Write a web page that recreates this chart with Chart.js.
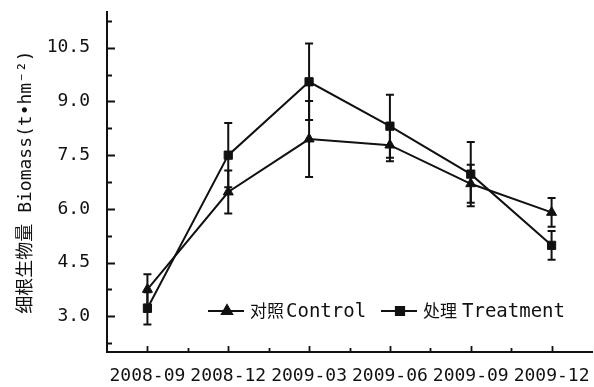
<!DOCTYPE html>
<html>
<head>
<meta charset="utf-8">
<script src="https://cdn.jsdelivr.net/npm/chart.js@4.4.1/dist/chart.umd.min.js"></script>
<style>
  html, body { margin: 0; padding: 0; background: #fff; }
  #wrap { width: 594px; height: 387px; }
</style>
</head>
<body>
<div id="wrap"><canvas id="chart"></canvas></div>
<script>
const months = ["2008-09", "2008-12", "2009-03", "2009-06", "2009-09", "2009-12"];
const control = [3.75, 6.47, 7.95, 7.78, 6.70, 5.90];
const controlErr = [0.42, 0.60, 1.06, 0.45, 0.53, 0.40];
const treatment = [3.22, 7.50, 9.55, 8.31, 6.97, 4.98];
const treatmentErr = [0.45, 0.90, 1.07, 0.88, 0.90, 0.40];
const yTicks = [3.0, 4.5, 6.0, 7.5, 9.0, 10.5];
const yMinorTicks = [2.25, 3.75, 5.25, 6.75, 8.25, 9.75, 11.25];

const INK = "#111";
const MONO = "'DejaVu Sans Mono', 'Noto Sans CJK SC', monospace";
const CJK = "'Noto Sans CJK SC', sans-serif";

// error bars, drawn from the y scale
const errorBars = {
  id: "errorBars",
  afterDatasetsDraw(chart) {
    const { ctx, scales: { x, y } } = chart;
    ctx.save();
    ctx.strokeStyle = INK;
    ctx.lineWidth = 2;
    chart.data.datasets.forEach(ds => {
      ds.data.forEach((v, i) => {
        const px = x.getPixelForValue(i);
        const top = y.getPixelForValue(v + ds.errors[i]);
        const bot = y.getPixelForValue(v - ds.errors[i]);
        ctx.beginPath();
        ctx.moveTo(px, top); ctx.lineTo(px, bot);
        ctx.moveTo(px - 4, top); ctx.lineTo(px + 4, top);
        ctx.moveTo(px - 4, bot); ctx.lineTo(px + 4, bot);
        ctx.stroke();
      });
    });
    ctx.restore();
  }
};

// tick marks pointing into the plot
const innerTicks = {
  id: "innerTicks",
  afterDraw(chart) {
    const { ctx, scales: { x, y }, chartArea: a } = chart;
    ctx.save();
    ctx.strokeStyle = INK;
    ctx.lineWidth = 1.8;
    ctx.beginPath();
    yTicks.forEach(v => {
      const py = Math.round(y.getPixelForValue(v)) + 0.5;
      ctx.moveTo(a.left, py); ctx.lineTo(a.left + 8, py);
    });
    yMinorTicks.forEach(v => {
      const py = Math.round(y.getPixelForValue(v)) + 0.5;
      ctx.moveTo(a.left, py); ctx.lineTo(a.left + 5, py);
    });
    months.forEach((m, i) => {
      const px = Math.round(x.getPixelForValue(i)) + 0.5;
      ctx.moveTo(px, a.bottom); ctx.lineTo(px, a.bottom - 6);
      if (i > 0) {
        const mx = Math.round(x.getPixelForValue(i - 0.5)) + 0.5;
        ctx.moveTo(mx, a.bottom); ctx.lineTo(mx, a.bottom - 4);
      }
    });
    ctx.stroke();
    ctx.restore();
  }
};

// legend inside the plot, near the bottom
const innerLegend = {
  id: "innerLegend",
  afterDraw(chart) {
    const { ctx, chartArea: a } = chart;
    const ly = 311;
    const items = [
      { ds: chart.data.datasets[0], x0: a.left + 101, cjk: "对照", gap: 2, latin: "Control" },
      { ds: chart.data.datasets[1], x0: a.left + 274, cjk: "处理", gap: 5, latin: "Treatment" }
    ];
    ctx.save();
    ctx.strokeStyle = INK;
    ctx.fillStyle = INK;
    ctx.textBaseline = "middle";
    items.forEach(it => {
      ctx.lineWidth = 2;
      ctx.beginPath();
      ctx.moveTo(it.x0, ly); ctx.lineTo(it.x0 + 36, ly);
      ctx.stroke();
      Chart.helpers.drawPoint(ctx, {
        pointStyle: it.ds.pointStyle, radius: it.ds.pointRadius, borderWidth: 1, rotation: 0
      }, it.x0 + 19, ly);
      let tx = it.x0 + 42;
      ctx.font = "17px " + CJK;
      ctx.fillText(it.cjk, tx, ly);
      tx += ctx.measureText(it.cjk).width + it.gap;
      ctx.font = "19px " + MONO;
      ctx.fillText(it.latin, tx, ly + 1);
    });
    ctx.restore();
  }
};

new Chart(document.getElementById("chart"), {
  type: "line",
  data: {
    labels: months,
    datasets: [
      {
        label: "对照Control",
        data: control,
        errors: controlErr,
        borderColor: INK,
        backgroundColor: INK,
        borderWidth: 2,
        pointStyle: "triangle",
        pointRadius: 5.8,
        pointBorderWidth: 1,
        tension: 0
      },
      {
        label: "处理 Treatment",
        data: treatment,
        errors: treatmentErr,
        borderColor: INK,
        backgroundColor: INK,
        borderWidth: 2,
        pointStyle: "rect",
        pointRadius: 5.8,
        pointBorderWidth: 1,
        tension: 0
      }
    ]
  },
  options: {
    responsive: true,
    maintainAspectRatio: false,
    animation: false,
    layout: { autoPadding: false, padding: { left: 0, right: 2, top: 12, bottom: 0 } },
    plugins: {
      legend: { display: false },
      tooltip: { enabled: false }
    },
    scales: {
      x: {
        offset: true,
        grid: { display: false, drawTicks: false },
        border: { display: true, color: INK, width: 2 },
        ticks: {
          color: INK,
          padding: 14,
          maxRotation: 0,
          autoSkip: false,
          font: { family: MONO, size: 18 }
        },
        afterFit: s => { s.height = 35; s.paddingLeft = 0; s.paddingRight = 0; }
      },
      y: {
        min: 2.0,
        max: 11.5,
        grid: { display: false, drawTicks: false },
        border: { display: true, color: INK, width: 2 },
        afterBuildTicks: s => { s.ticks = yTicks.map(v => ({ value: v })); },
        ticks: {
          color: INK,
          padding: 17,
          font: { family: MONO, size: 18 },
          callback: v => Number(v).toFixed(1)
        },
        title: {
          display: true,
          text: "细根生物量 Biomass(t•hm⁻²)",
          color: INK,
          font: { family: MONO, size: 18 },
          padding: { top: 16, bottom: 0 }
        },
        afterFit: s => { s.width = 107; s.paddingTop = 0; s.paddingBottom = 0; }
      }
    }
  },
  plugins: [errorBars, innerTicks, innerLegend]
});
</script>
</body>
</html>
